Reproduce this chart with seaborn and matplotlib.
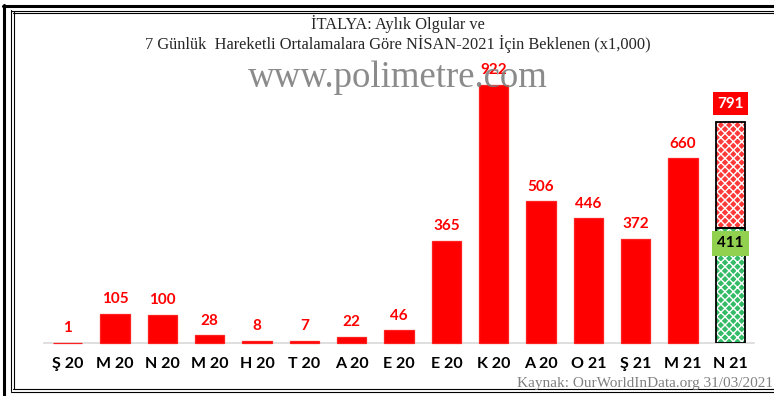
import matplotlib
matplotlib.use("Agg")
import matplotlib.pyplot as plt
from matplotlib.lines import Line2D
import seaborn as sns
import numpy as np

# Monthly cases (thousands)
months = ["Ş 20", "M 20", "N 20", "M 20", "H 20", "T 20", "A 20", "E 20",
          "E 20", "K 20", "A 20", "O 21", "Ş 21", "M 21", "N 21"]
cases = [1, 105, 100, 28, 8, 7, 22, 46, 365, 922, 506, 446, 372, 660]
# April 2021: cases so far and expected total
april_so_far = 411
april_expected = 791

title = "İTALYA: Aylık Olgular ve\n7 Günlük  Hareketli Ortalamalara Göre NİSAN-2021 İçin Beklenen (x1,000)"
source = "Kaynak: OurWorldInData.org 31/03/2021"
watermark = "www.polimetre.com"

sns.set_theme(style="white")
plt.rcParams["font.family"] = ["Lato", "DejaVu Sans"]
plt.rcParams["hatch.linewidth"] = 1.0

W, H = 774, 396
fig = plt.figure(figsize=(W / 100, H / 100), dpi=100)
fig.patch.set_facecolor("white")

# plot area in pixels: left 44, right 754, baseline at y=343, 280 px tall
ax = fig.add_axes([44 / W, (H - 343) / H, 710 / W, 280 / H])
ax.set_facecolor("none")

idx = list(range(len(cases)))
sns.barplot(x=idx, y=cases, color="#ff0000", saturation=1, width=0.62,
            order=list(range(len(months))), ax=ax, zorder=3,
            edgecolor="#ff2020", linewidth=0.9)
for p in ax.patches:
    p.set_clip_on(False)
ax.set_xlim(-0.5, len(months) - 0.5)
ax.set_ylim(0, 1000)

red = "#ff0000"
for i, v in enumerate(cases):
    ax.text(i, v + 27, str(v), ha="center", va="bottom", color=red,
            fontsize=11, fontweight="bold")

# April 2021 stacked projection bar
xa = months.index("N 21")
rest = april_expected - april_so_far
ax.bar(xa, april_so_far, width=0.62, color="#33bb66", edgecolor="white",
       hatch="xxxx", linewidth=0, zorder=3)
ax.bar(xa, rest, bottom=april_so_far, width=0.62, color="#ff3838",
       edgecolor="white", hatch="xxxx", linewidth=0, zorder=3)
ax.bar(xa, april_so_far, width=0.62, fill=False, edgecolor="black",
       linewidth=1.3, zorder=4)
ax.bar(xa, rest, bottom=april_so_far, width=0.62, fill=False,
       edgecolor="black", linewidth=1.3, zorder=4)

ax.text(xa, april_expected + 63, str(april_expected), ha="center",
        va="center", color="white", fontsize=11, fontweight="bold",
        bbox=dict(boxstyle="square,pad=0.3", fc=red, ec="none"), zorder=5)
ax.text(xa, april_so_far - 55, str(april_so_far), ha="center",
        va="center", color="black", fontsize=11, fontweight="bold",
        bbox=dict(boxstyle="square,pad=0.35", fc="#92d050", ec="none"), zorder=5)

# axes styling
for s in ["top", "right", "left"]:
    ax.spines[s].set_visible(False)
ax.spines["bottom"].set_color("#d9d9d9")
ax.spines["bottom"].set_linewidth(1.2)
ax.spines["bottom"].set_zorder(1)
ax.set_yticks([])
ax.set_xticks(idx + [xa])
ax.set_xticklabels(months, fontsize=11.5, fontweight="bold", color="black")
ax.tick_params(axis="x", which="major", length=0, pad=10)
ax.set_xticks(np.arange(-0.5, len(months)), minor=True)
ax.tick_params(axis="x", which="minor", length=5, color="#d9d9d9", width=1.2)
ax.set_xlabel("")
ax.set_ylabel("")

# title, watermark and source
fig.text(398 / W, 1 - 34 / H, title, ha="center", va="center",
         family="Liberation Serif", fontsize=11.8, linespacing=1.2)
fig.text(398 / W, 1 - 78 / H, watermark, ha="center", va="center",
         family="Liberation Serif", fontsize=26.5, color="#7f7f7f", alpha=0.9,
         zorder=6)
fig.text(773 / W, 1 - 383 / H, source, ha="right", va="center",
         family="Liberation Serif", fontsize=11, color="#808080")

# double frame around the chart
def hline(y, x0, x1, lw):
    fig.add_artist(Line2D([x0 / W, x1 / W], [1 - y / H, 1 - y / H],
                          color="black", lw=lw, transform=fig.transFigure))

def vline(x, y0, y1, lw):
    fig.add_artist(Line2D([x / W, x / W], [1 - y0 / H, 1 - y1 / H],
                          color="black", lw=lw, transform=fig.transFigure))

vline(4, 5, 396, 2.2)
hline(6, 3, 774, 2.2)
vline(11, 10, 391, 0.8)
vline(13.5, 12, 389, 0.8)
hline(10.5, 11, 774, 0.8)
hline(12.5, 13, 774, 0.8)
hline(389, 13, 774, 0.8)
hline(391.5, 11, 774, 0.8)

fig.savefig("out.png", dpi=100)
